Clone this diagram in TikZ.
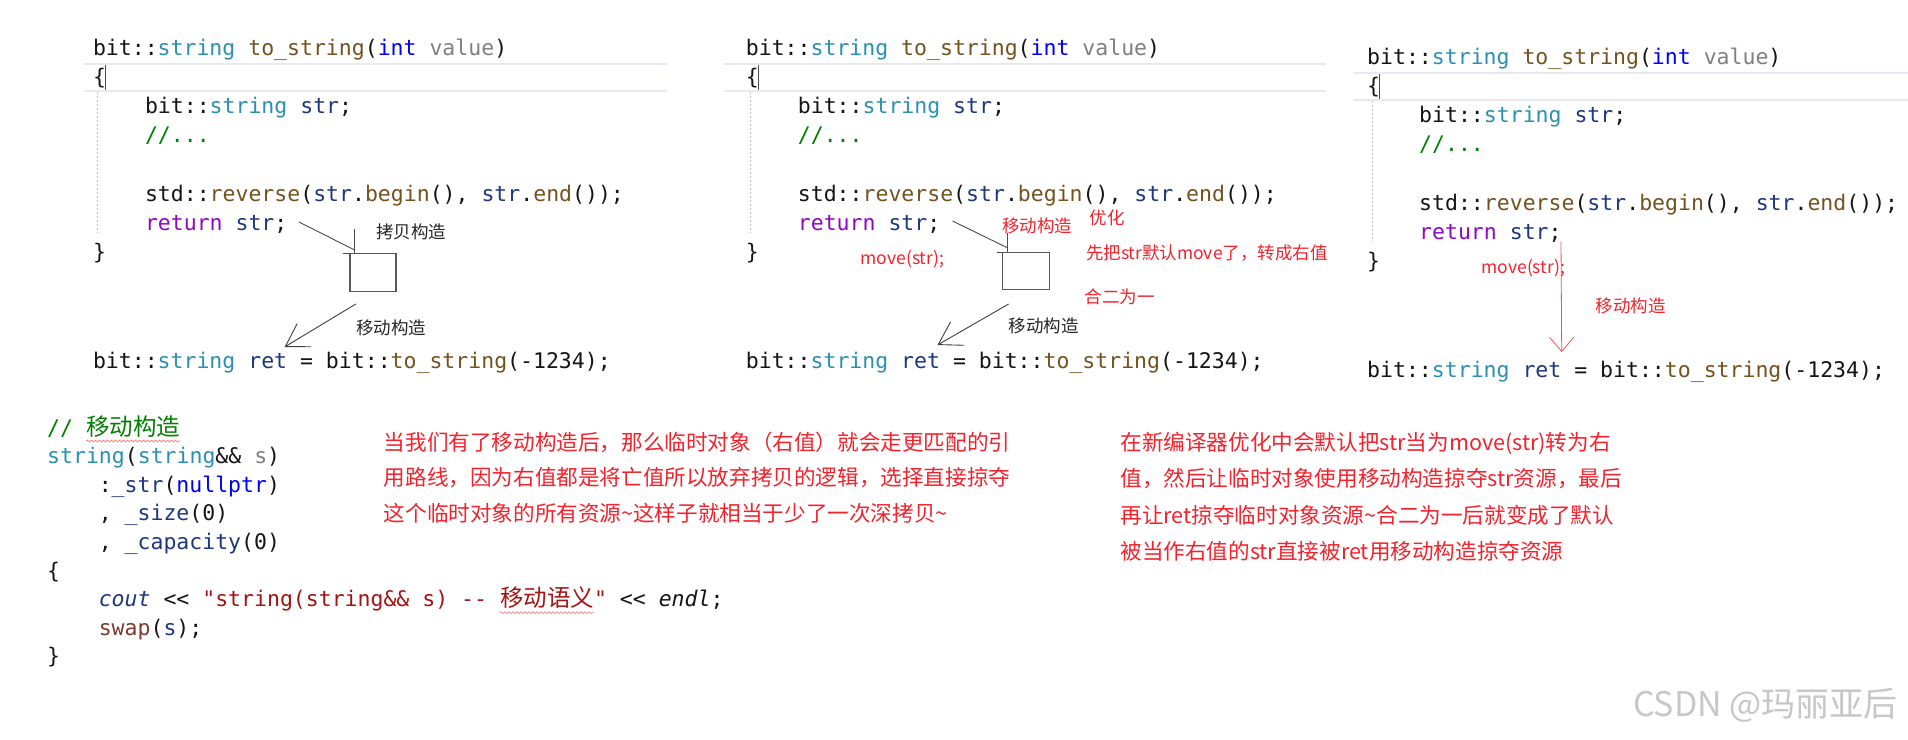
\documentclass[tikz,border=0pt]{standalone}
\usepackage{fontspec}
\usepackage{tikz}
\usetikzlibrary{arrows.meta,positioning,calc,decorations.pathmorphing}
\usepackage{xcolor}
\newfontfamily\cjk{Noto Sans CJK SC}
\newfontfamily\codefont{DejaVu Sans Mono}
\definecolor{codeink}{HTML}{151515}
\definecolor{vstype}{HTML}{2B91AF}
\definecolor{vsfunc}{HTML}{74531F}
\definecolor{vskey}{HTML}{0000FF}
\definecolor{vsparam}{HTML}{808080}
\definecolor{vslocal}{HTML}{1F377F}
\definecolor{vsctrl}{HTML}{8F08C4}
\definecolor{vscomment}{HTML}{008000}
\definecolor{vsstring}{HTML}{A31515}
\definecolor{vsswap}{HTML}{7A3B2E}
\definecolor{notered}{HTML}{F2232D}
\definecolor{rulegray}{HTML}{E8E8F0}
\newcommand\cty[1]{\textcolor{vstype}{#1}}
\newcommand\cfn[1]{\textcolor{vsfunc}{#1}}
\newcommand\ckw[1]{\textcolor{vskey}{#1}}
\newcommand\cpa[1]{\textcolor{vsparam}{#1}}
\newcommand\cvar[1]{\textcolor{vslocal}{#1}}
\newcommand\cret[1]{\textcolor{vsctrl}{#1}}
\newcommand\ccom[1]{\textcolor{vscomment}{#1}}
\newcommand\clit[1]{\textcolor{vsstring}{#1}}
\newcommand\zh[1]{{\cjk\fontsize{23.5}{24}\selectfont #1}}

\begin{document}
\begin{tikzpicture}[x=1pt, y=-1pt,
  code/.style={anchor=base west, inner sep=0pt, text=codeink, font=\codefont\fontsize{21.5}{24}\selectfont},
  note/.style={anchor=west, inner sep=0pt, text=notered, font=\cjk\fontsize{17.5}{20}\selectfont},
  blacknote/.style={anchor=west, inner sep=0pt, text=black!85, font=\cjk\fontsize{17.5}{20}\selectfont},
  para/.style={anchor=base west, inner sep=0pt, text=notered, font=\cjk\fontsize{21.6}{24}\selectfont},
  callout/.style={draw=black!70, line width=0.9pt},
  tmpbox/.style={draw=black!65, line width=1.1pt, minimum width=46pt, minimum height=38pt, inner sep=0pt},
  movearrow/.style={draw=black!75, line width=0.9pt, -{Straight Barb[length=22pt,width=27pt]}},
  redarrow/.style={draw=notered!80, line width=0.8pt, -{Straight Barb[length=14pt,width=24pt]}},
  squiggle/.style={draw=red!60, line width=0.6pt, decorate, decoration={snake, amplitude=0.9pt, segment length=4pt}}
]
  \fill[white] (0,0) rectangle (1908,739);
  \useasboundingbox (0,0) rectangle (1908,739);
  % three copies of to_string
  \foreach \n/\px/\py/\gl/\gr in {A/92.8/55/83.7/667, B/745.7/55/724/1326, C/1367/64/1352.7/1908} {
    \draw[rulegray, line width=2pt] (\gl,\py+9) -- (\gr,\py+9) (\gl,\py+36) -- (\gr,\py+36);
    \draw[black!70, line width=0.8pt] (\px+12.5,\py+10) -- (\px+12.5,\py+35);
    \draw[black!25, line width=0.8pt, dash pattern=on 2pt off 2pt] (\px+5,\py+37) -- (\px+5,\py+178);
    \node[code] (hd\n) at (\px,\py) {bit::\cty{string} \cfn{to\_string}(\ckw{int} \cpa{value})};
    \node[code] (ob\n) at (\px,\py+29.2) {\{};
    \node[code] (dc\n) at (\px+52,\py+58.4) {bit::\cty{string} \cvar{str};};
    \node[code] (cm\n) at (\px+52,\py+87.6) {\ccom{//...}};
    \node[code] (rv\n) at (\px+52,\py+146) {std::\cfn{reverse}(\cvar{str}.\cfn{begin}(), \cvar{str}.\cfn{end}());};
    \node[code] (rn\n) at (\px+52,\py+175.2) {\cret{return} \cvar{str};};
    \node[code] (cb\n) at (\px,\py+204.4) {\}};
    \node[code] (rt\n) at (\px,\py+313) {bit::\cty{string} \cvar{ret} = bit::\cfn{to\_string}(-1234);};
  }
  % panel A: copy, then move
  \node[tmpbox, anchor=north west] (tmpA) at (349.4,253) {};
  \coordinate (fromA) at (299,222);
  \coordinate (kneeA) at (354.6,250);
  \coordinate (topA) at (354.6,229);
  \draw[callout] (fromA) -- (kneeA);
  \draw[callout] (topA) -- (topA |- tmpA.north);
  \draw[callout] ([xshift=-6.7pt]tmpA.north west) -- (tmpA.north west);
  \node[blacknote] (cpA) at (376,232) {拷贝构造};
  \coordinate (mvA) at (355.8,304);
  \coordinate (tipA) at (284.6,347);
  \draw[movearrow] (mvA) -- (tipA);
  \node[blacknote] (mcA) at (355.8,328) {移动构造};
  % panel B: optimised
  \node[tmpbox, anchor=north west, minimum width=47pt, minimum height=37pt] (tmpB) at (1001.9,252) {};
  \coordinate (fromB) at (952.5,221);
  \coordinate (kneeB) at (1007.9,248);
  \coordinate (topB) at (1007.9,233);
  \draw[callout] (fromB) -- (kneeB);
  \draw[callout] (topB) -- (topB |- tmpB.north);
  \draw[callout] ([xshift=-5.1pt]tmpB.north west) -- (tmpB.north west);
  \node[note] (mcB) at (1002,226) {移动构造};
  \node[note] (optB) at (1089.7,218) {优化};
  \node[note] (mvB) at (860.4,259) {move(str);};
  \node[note] (rvB) at (1085.8,253) {先把str默认move了，转成右值};
  \node[note] (oneB) at (1084.6,297) {合二为一};
  \coordinate (mvB2) at (1008.6,304);
  \coordinate (tipB) at (937.5,345);
  \draw[movearrow] (mvB2) -- (tipB);
  \node[blacknote] (mc2B) at (1008.6,326) {移动构造};
  % panel C: one move only
  \coordinate (srcC) at (1561,242);
  \coordinate (tipC) at (1561.7,352);
  \draw[redarrow] (srcC) -- (tipC);
  \node[note] (mvC) at (1481.3,268) {move(str);};
  \node[note] (mcC) at (1595.4,306) {移动构造};
  % move constructor
  \node[code] (mc0) at (47,435) {\ccom{// \zh{移动构造}}};
  \node[code] (mc1) at (47,463.6) {\cty{string}(\cty{string}\&\& \cpa{s})};
  \node[code] (mc2) at (98.6,492.2) {:\cvar{\_str}(\ckw{nullptr})};
  \node[code] (mc3) at (98.6,520.8) {, \cvar{\_size}(0)};
  \node[code] (mc4) at (98.6,549.4) {, \cvar{\_capacity}(0)};
  \node[code] (mc5) at (47,578) {\{};
  \node[code] (mc6) at (98.6,606.6) {\cvar{\itshape cout} << \clit{"string(string\&\& s) -{}- \zh{移动语义}"} << {\itshape endl};};
  \node[code] (mc7) at (98.6,635.2) {\textcolor{vsswap}{swap}(\cvar{s});};
  \node[code] (mc8) at (47,663.8) {\}};
  \draw[squiggle] ($(mc0.base east)+(-94,6)$) -- ($(mc0.base east)+(0,6)$);
  \draw[squiggle] ($(mc6.base west)+(401,6)$) -- ($(mc6.base west)+(495,6)$);
  % remarks
  \foreach \y/\t [count=\i] in {450/当我们有了移动构造后，那么临时对象（右值）就会走更匹配的引,
      485.7/用路线，因为右值都是将亡值所以放弃拷贝的逻辑，选择直接掠夺,
      521.4/这个临时对象的所有资源\textasciitilde 这样子就相当于少了一次深拷贝\textasciitilde}
    \node[para] (pl\i) at (383.6,\y) {\t};
  \foreach \y/\t [count=\i] in {450/在新编译器优化中会默认把str当为move(str)转为右,
      486.5/值，然后让临时对象使用移动构造掠夺str资源，最后,
      523/再让ret掠夺临时对象资源\textasciitilde 合二为一后就变成了默认,
      559.5/被当作右值的str直接被ret用移动构造掠夺资源}
    \node[para] (pr\i) at (1120.3,\y) {\t};
  \node[anchor=east, inner sep=0pt, text=black!22, font=\cjk\fontsize{34}{36}\selectfont] (wm) at (1898,705) {CSDN @玛丽亚后};
\end{tikzpicture}
\end{document}
